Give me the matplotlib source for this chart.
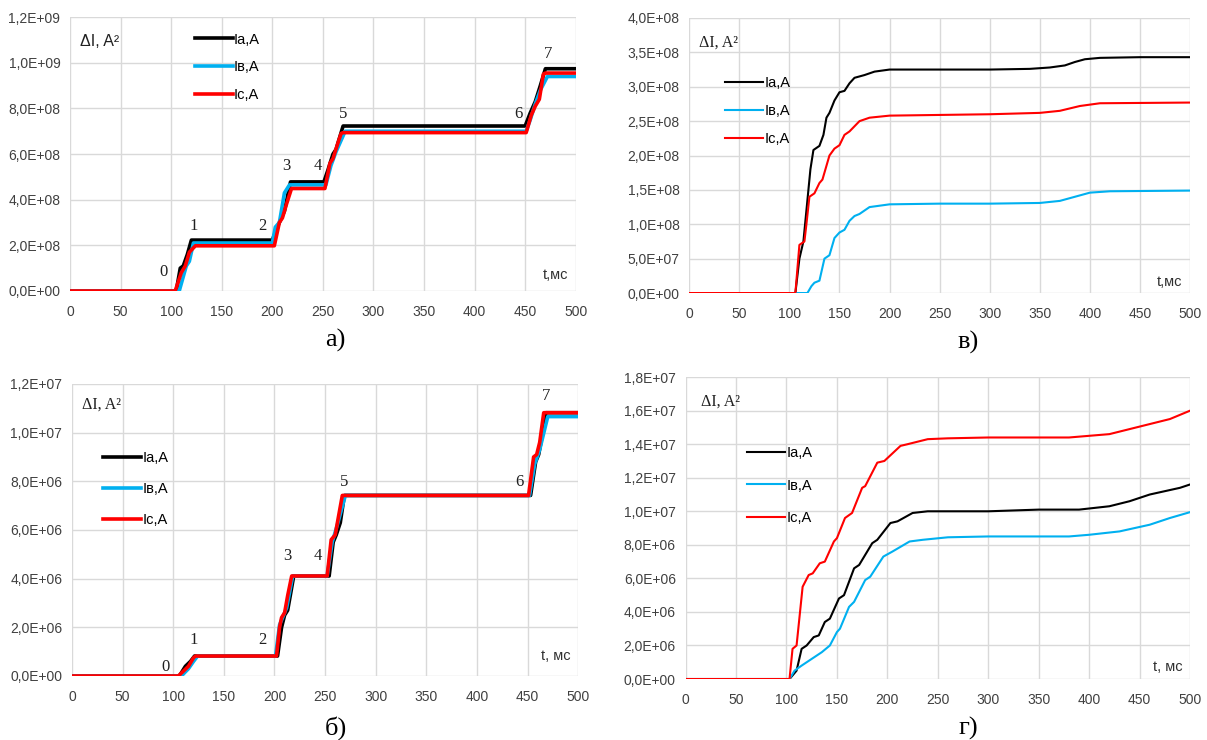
import numpy as np
import matplotlib.pyplot as plt
from matplotlib.ticker import FuncFormatter

plt.rcParams.update({"font.family": ["Liberation Sans", "DejaVu Sans"],
                     "font.size": 9.5})

# ---- panel а) : units 1e8 A^2
a_t_ia = [0, 105, 109, 112, 116, 120, 200, 205, 208, 212, 218, 251, 255, 260, 263, 270, 450, 455, 460, 465, 470, 500]
a_ia = [0, 0, 1.0, 1.1, 1.6, 2.23, 2.23, 2.8, 3.1, 3.5, 4.78, 4.78, 5.3, 6.0, 6.2, 7.23, 7.23, 7.8, 8.3, 9.0, 9.74, 9.74]
a_t_ib = [0, 108, 115, 118, 122, 200, 203, 207, 212, 217, 253, 258, 263, 267, 272, 451, 455, 460, 465, 472, 500]
a_ib = [0, 0, 1.1, 1.3, 2.1, 2.1, 2.8, 3.0, 4.3, 4.65, 4.65, 5.5, 6.1, 6.5, 7.0, 7.0, 7.5, 8.2, 8.8, 9.4, 9.4]
a_t_ic = [0, 104, 110, 114, 118, 124, 202, 207, 210, 214, 219, 252, 257, 260, 265, 268, 270, 451, 456, 460, 464, 468, 470, 500]
a_ic = [0, 0, 0.8, 1.1, 1.7, 1.98, 1.98, 3.0, 3.2, 3.8, 4.49, 4.49, 5.6, 5.8, 6.5, 6.9, 6.94, 6.94, 7.7, 8.1, 8.4, 9.5, 9.55, 9.55]
a_marks = ["0", "1", "2", "3", "4", "5", "6", "7"]
a_mark_t = [92, 122, 190, 214, 245, 270, 443, 473]
a_mark_y = [0.85, 2.86, 2.86, 5.47, 5.47, 7.77, 7.77, 10.4]

# ---- panel б) : units 1e6 A^2
b_t_ia = [0, 106, 112, 117, 121, 203, 207, 210, 213, 216, 219, 254, 258, 261, 265, 269, 453, 458, 461, 465, 468, 500]
b_ia = [0, 0, 0.4, 0.6, 0.82, 0.82, 2.0, 2.5, 2.7, 3.4, 4.11, 4.11, 5.5, 5.8, 6.3, 7.42, 7.42, 8.8, 9.1, 10.0, 10.82, 10.82]
b_t_ib = [0, 108, 115, 120, 124, 201, 205, 208, 212, 218, 252, 257, 262, 270, 452, 457, 462, 470, 500]
b_ib = [0, 0, 0.3, 0.6, 0.82, 0.82, 2.1, 2.4, 2.8, 4.11, 4.11, 5.5, 6.2, 7.42, 7.42, 8.7, 9.3, 10.66, 10.66]
b_t_ic = [0, 105, 110, 115, 120, 122, 202, 205, 207, 210, 213, 217, 252, 256, 260, 263, 267, 451, 456, 459, 462, 466, 500]
b_ic = [0, 0, 0.2, 0.4, 0.75, 0.82, 0.82, 2.0, 2.4, 2.6, 3.3, 4.11, 4.11, 5.6, 5.8, 6.5, 7.42, 7.42, 9.0, 9.1, 9.6, 10.82, 10.82]
b_marks = ["0", "1", "2", "3", "4", "5", "6", "7"]
b_mark_t = [92, 120, 188, 213, 243, 269, 442, 468]
b_mark_y = [0.38, 1.48, 1.48, 4.92, 4.92, 7.99, 7.99, 11.5]

# ---- panel в) : units 1e8 A^2
v_t_ia = [0, 106, 110, 114, 118, 121, 124, 130, 134, 137, 140, 145, 150, 155, 160, 165, 170, 175, 185, 200, 250, 300, 340, 360, 375, 385, 395, 410, 450, 500]
v_ia = [0, 0, 0.5, 0.75, 1.35, 1.8, 2.08, 2.14, 2.3, 2.55, 2.62, 2.8, 2.92, 2.94, 3.05, 3.13, 3.15, 3.17, 3.22, 3.25, 3.25, 3.25, 3.26, 3.28, 3.31, 3.36, 3.4, 3.42, 3.43, 3.43]
v_t_ib = [0, 118, 122, 125, 130, 135, 140, 145, 150, 155, 160, 165, 170, 175, 180, 190, 200, 250, 300, 350, 370, 385, 400, 420, 500]
v_ib = [0, 0, 0.1, 0.15, 0.18, 0.5, 0.55, 0.8, 0.88, 0.92, 1.05, 1.12, 1.15, 1.2, 1.25, 1.27, 1.29, 1.3, 1.3, 1.31, 1.34, 1.4, 1.46, 1.48, 1.49]
v_t_ic = [0, 106, 110, 115, 117, 120, 125, 130, 133, 140, 145, 150, 155, 160, 170, 180, 200, 250, 300, 350, 370, 390, 410, 500]
v_ic = [0, 0, 0.7, 0.75, 1.0, 1.4, 1.45, 1.6, 1.65, 2.0, 2.1, 2.15, 2.3, 2.35, 2.5, 2.55, 2.58, 2.59, 2.6, 2.62, 2.65, 2.72, 2.76, 2.77]

# ---- panel г) : units 1e6 A^2
g_t_ia = [0, 103, 110, 115, 120, 127, 132, 138, 143, 152, 157, 167, 172, 185, 190, 203, 210, 225, 240, 300, 350, 390, 420, 440, 460, 490, 500]
g_ia = [0, 0, 0.5, 1.8, 2.0, 2.5, 2.6, 3.4, 3.6, 4.8, 5.0, 6.6, 6.8, 8.1, 8.3, 9.3, 9.4, 9.9, 10.0, 10.0, 10.1, 10.1, 10.3, 10.6, 11.0, 11.4, 11.6]
g_t_ib = [0, 103, 108, 115, 125, 135, 143, 150, 153, 162, 167, 178, 183, 196, 205, 222, 235, 260, 300, 380, 400, 430, 460, 480, 500]
g_ib = [0, 0, 0.5, 0.8, 1.2, 1.6, 2.0, 2.8, 3.0, 4.3, 4.6, 5.9, 6.1, 7.3, 7.6, 8.2, 8.3, 8.45, 8.5, 8.5, 8.6, 8.8, 9.2, 9.6, 9.95]
g_t_ic = [0, 103, 106, 110, 116, 122, 126, 133, 138, 147, 150, 158, 165, 175, 178, 190, 197, 213, 220, 240, 260, 300, 380, 400, 420, 440, 460, 480, 500]
g_ic = [0, 0, 1.8, 2.0, 5.5, 6.2, 6.3, 6.9, 7.0, 8.2, 8.4, 9.6, 9.9, 11.4, 11.5, 12.9, 13.0, 13.9, 14.0, 14.3, 14.35, 14.4, 14.4, 14.5, 14.6, 14.9, 15.2, 15.5, 16.0]

labels = ["Ia,A", "Iв,A", "Ic,A"]
colors = ["#000000", "#00b0f0", "#ff0000"]


def sci(v, pos):
    return f"{v:.1E}".replace(".", ",")


fig = plt.figure(figsize=(12.07, 7.4), dpi=100)

panels = [
    dict(rect=[0.058, 0.6068, 0.419, 0.370], scale=1e8, ymax=1.2e9, ystep=2e8,
         series=[(a_t_ia, a_ia), (a_t_ib, a_ib), (a_t_ic, a_ic)], lw=2.6,
         marks=(a_marks, a_mark_t, a_mark_y), serif=False, tlabel="t,мс", ty=0.06,
         leg=(0.235, 0.965), lsp=0.95, cap="а)", cappos=(0.278, 0.525), lab=(0.02, 0.91)),
    dict(rect=[0.571, 0.604, 0.415, 0.3717], scale=1e8, ymax=4e8, ystep=5e7,
         series=[(v_t_ia, v_ia), (v_t_ib, v_ib), (v_t_ic, v_ic)], lw=1.5,
         marks=None, serif=True, tlabel="t,мс", ty=0.04,
         leg=(0.06, 0.81), lsp=0.95, cap="в)", cappos=(0.802, 0.522), lab=(0.02, 0.91)),
    dict(rect=[0.0597, 0.0865, 0.4193, 0.3946], scale=1e6, ymax=1.2e7, ystep=2e6,
         series=[(b_t_ia, b_ia), (b_t_ib, b_ib), (b_t_ic, b_ic)], lw=2.6,
         marks=(b_marks, b_mark_t, b_mark_y), serif=True, tlabel="t, мс", ty=0.07,
         leg=(0.05, 0.79), lsp=1.15, cap="б)", cappos=(0.278, 0.0), lab=(0.02, 0.93)),
    dict(rect=[0.568, 0.0824, 0.418, 0.408], scale=1e6, ymax=1.8e7, ystep=2e6,
         series=[(g_t_ia, g_ia), (g_t_ib, g_ib), (g_t_ic, g_ic)], lw=1.5,
         marks=None, serif=True, tlabel="t, мс", ty=0.04,
         leg=(0.11, 0.79), lsp=1.25, cap="г)", cappos=(0.802, 0.0), lab=(0.03, 0.92)),
]

for p in panels:
    ax = fig.add_axes(p["rect"])
    for (t, y), lab, c in zip(p["series"], labels, colors):
        ax.plot(t, np.array(y) * p["scale"], color=c, lw=p["lw"], label=lab,
                solid_joinstyle="round")
    ax.set_xlim(0, 500)
    ax.set_ylim(0, p["ymax"])
    ax.set_xticks(np.arange(0, 501, 50))
    ax.set_yticks(np.arange(0, p["ymax"] + 1, p["ystep"]))
    ax.yaxis.set_major_formatter(FuncFormatter(sci))
    ax.grid(True, color="#d9d9d9", lw=1.0)
    ax.set_axisbelow(True)
    for s in ax.spines.values():
        s.set_visible(False)
    ax.tick_params(length=0, colors="#404040", labelsize=10)
    ax.tick_params(axis="x", pad=10)
    ax.tick_params(axis="y", pad=7)
    if p["marks"] is not None:
        for m, tt, yy in zip(*p["marks"]):
            ax.text(tt, yy * p["scale"], m, family="Liberation Serif", fontsize=12,
                    ha="center", va="center", color="#202020")
    fam = "Liberation Serif" if p["serif"] else "Liberation Sans"
    ax.text(p["lab"][0], p["lab"][1], "ΔI, A²", transform=ax.transAxes,
            family=[fam, "DejaVu Sans"], fontsize=11.5, color="#202020", va="center")
    ax.text(0.985, p["ty"], p["tlabel"], transform=ax.transAxes, ha="right",
            va="center", fontsize=10.5, color="#303030")
    ax.legend(loc="upper left", bbox_to_anchor=p["leg"], frameon=False,
              handlelength=2.6, handletextpad=0.1, labelspacing=p["lsp"],
              fontsize=10.5, borderaxespad=0)
    fig.text(p["cappos"][0], p["cappos"][1], p["cap"], family="Liberation Serif",
             fontsize=19, ha="center", va="bottom")

fig.savefig("out.png", dpi=100)
